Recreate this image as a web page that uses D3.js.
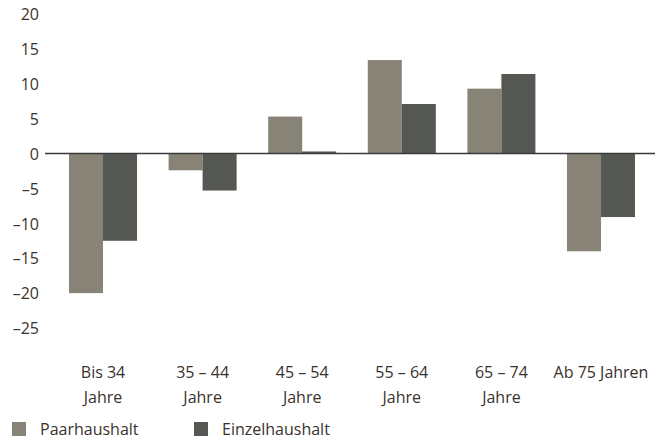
<!DOCTYPE html>
<html>
<head>
<meta charset="utf-8">
<script src="https://cdn.jsdelivr.net/npm/d3@7"></script>
<style>
  body { margin: 0; background: #fff; }
  svg text { font-family: "Open Sans", "Noto Sans", sans-serif; font-size: 16px; fill: #3a322d; }
</style>
</head>
<body>
<script>
'use strict';

// age groups (two lines each)
var categories = ["Bis 34|Jahre", "35 – 44|Jahre", "45 – 54|Jahre", "55 – 64|Jahre", "65 – 74|Jahre", "Ab 75 Jahren"];
var seriesNames = ["Paarhaushalt", "Einzelhaushalt"];
var paarhaushalt = [-20.0, -2.4, 5.3, 13.4, 9.3, -14.0];
var einzelhaushalt = [-12.5, -5.3, 0.3, 7.1, 11.4, -9.1];
var yTicks = [20, 15, 10, 5, 0, -5, -10, -15, -20, -25];
var colors = ["#878377", "#555852"];

var width = 670, height = 441;

var svg = d3.select("body").append("svg")
    .attr("width", width)
    .attr("height", height);

var y = d3.scaleLinear().domain([-25, 20]).range([328, 14]);

var x0 = d3.scaleBand()
    .domain(categories)
    .range([69, 635])
    .paddingInner(0.317)
    .paddingOuter(0);

var x1 = d3.scaleBand()
    .domain(seriesNames)
    .range([0, x0.bandwidth()]);

var dataset = categories.map(function(c, i) {
  return { cat: c, values: [
    { name: seriesNames[0], value: paarhaushalt[i] },
    { name: seriesNames[1], value: einzelhaushalt[i] }
  ]};
});

var color = d3.scaleOrdinal().domain(seriesNames).range(colors);

// y axis labels only
var yAxis = svg.append("g")
    .attr("transform", "translate(39,0)")
    .call(d3.axisLeft(y).tickValues(yTicks).tickSize(0).tickPadding(0)
      .tickFormat(function(d) { return d < 0 ? "–" + Math.abs(d) : d; }));
yAxis.select(".domain").remove();
yAxis.selectAll("text")
    .attr("fill", null)
    .attr("dy", "0.36em");

// bars
var groups = svg.selectAll(".group")
    .data(dataset)
  .enter().append("g")
    .attr("class", "group")
    .attr("transform", function(d) { return "translate(" + x0(d.cat) + ",0)"; });

groups.selectAll("rect")
    .data(function(d) { return d.values; })
  .enter().append("rect")
    .attr("x", function(d) { return x1(d.name); })
    .attr("width", x1.bandwidth())
    .attr("y", function(d) { return y(Math.max(0, d.value)); })
    .attr("height", function(d) { return Math.abs(y(d.value) - y(0)); })
    .style("fill", function(d) { return color(d.name); });

// zero line
svg.append("line")
    .attr("x1", 45)
    .attr("x2", 655)
    .attr("y1", y(0))
    .attr("y2", y(0))
    .attr("stroke", "#3a3a3a")
    .attr("stroke-width", 1.6);

// category labels
var catLabels = svg.selectAll(".cat")
    .data(categories)
  .enter().append("text")
    .attr("class", "cat")
    .attr("text-anchor", "middle")
    .attr("transform", function(d) { return "translate(" + (x0(d) + x0.bandwidth() / 2) + ",378)"; });

catLabels.selectAll("tspan")
    .data(function(d) { return d.split("|"); })
  .enter().append("tspan")
    .attr("x", 0)
    .attr("y", function(d, i) { return i * 25; })
    .text(function(d) { return d; });

// legend
var legend = svg.selectAll(".legend")
    .data(seriesNames)
  .enter().append("g")
    .attr("class", "legend")
    .attr("transform", function(d, i) { return "translate(" + (12 + i * 182) + ",422)"; });

legend.append("rect")
    .attr("width", 14)
    .attr("height", 14)
    .style("fill", color);

legend.append("text")
    .attr("x", 28)
    .attr("y", 13)
    .text(function(d) { return d; });
</script>
</body>
</html>
